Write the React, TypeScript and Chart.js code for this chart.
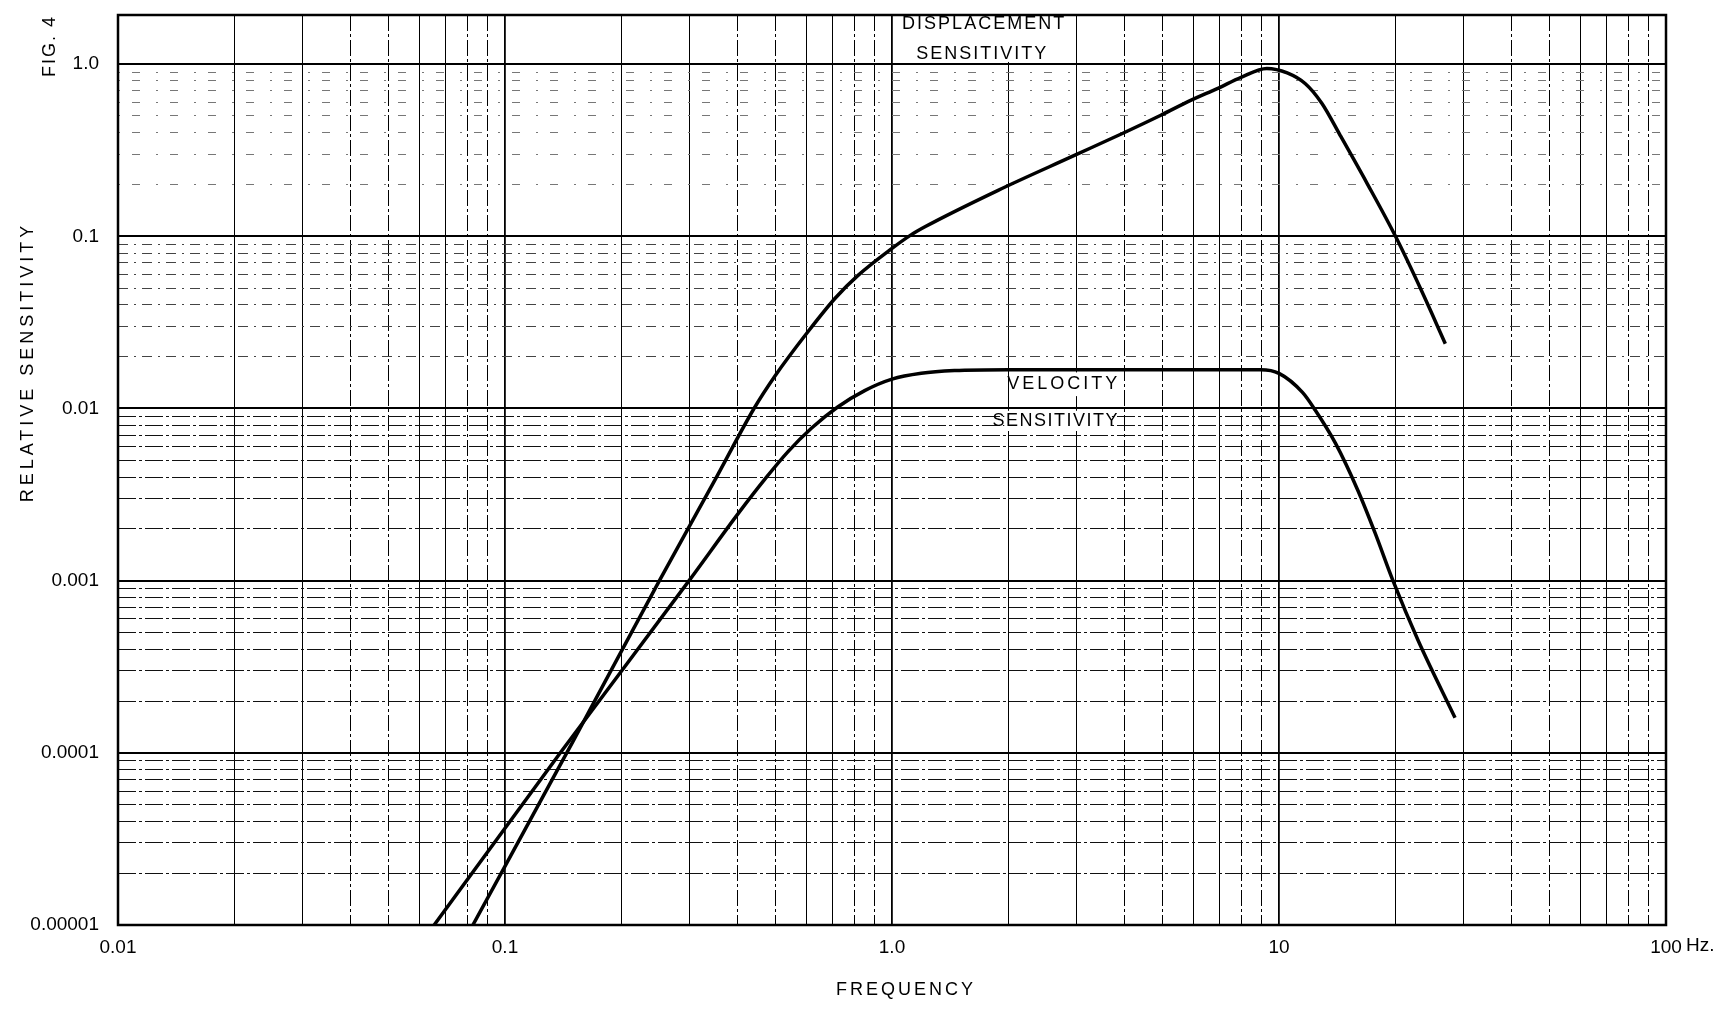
import React, { useEffect, useRef } from 'react';
import { Chart, registerables } from 'chart.js';

Chart.register(...registerables);

// ---------------- data ----------------
const xTickValues = [0.01, 0.1, 1, 10, 100];
const xTickLabels = ['0.01', '0.1', '1.0', '10', '100'];
const yTickValues = [0.00001, 0.0001, 0.001, 0.01, 0.1, 1];
const yTickLabels = ['0.00001', '0.0001', '0.001', '0.01', '0.1', '1.0'];
const xMin = 0.01;
const xMax = 100;
const yMin = 0.00001;
const yMax = 1.93;

const displacementFreq = [
  0.0826, 0.15, 0.25, 0.35, 0.44, 0.499, 0.607, 0.713, 0.817, 1.0, 1.12, 1.22, 1.88, 2.97,
  3.95, 4.95, 5.93, 6.95, 7.98, 9.3, 10.5, 11.7, 12.9, 14.4, 16.9, 20.0, 23.4, 26.9,
];
const displacementValue = [
  0.00001, 0.000117, 0.00099, 0.0039, 0.01, 0.0155, 0.028, 0.0437, 0.0593, 0.0851, 0.102, 0.114, 0.185, 0.296,
  0.397, 0.505, 0.618, 0.724, 0.839, 0.945, 0.89, 0.77, 0.593, 0.385, 0.2025, 0.1, 0.0478, 0.0238,
];

const velocityFreq = [
  0.0656, 0.139, 0.299, 0.403, 0.47, 0.538, 0.62, 0.724, 0.85, 1.0, 1.19, 1.45, 2.0, 4.0,
  8.97, 10.0, 11.5, 12.4, 14.0, 16.0, 17.7, 19.7, 22.9, 28.5,
];
const velocityValue = [
  0.00001, 0.0001, 0.001, 0.0025, 0.0039, 0.0056, 0.0077, 0.0102, 0.0127, 0.0148, 0.016, 0.0166, 0.0168, 0.0168,
  0.0168, 0.016, 0.0124, 0.0098, 0.00627, 0.00333, 0.0019, 0.001, 0.000448, 0.00016,
];

const xAxisTitle = 'FREQUENCY';
const yAxisTitle = 'RELATIVE SENSITIVITY';
const figureLabel = 'FIG. 4';
const xUnitLabel = 'Hz.';
const curveLabelTexts = ['DISPLACEMENT', 'SENSITIVITY', 'VELOCITY', 'SENSITIVITY'];

// ---------------- layout / style ----------------
const W = 1730;
const H = 1011;
const FONT = "'Liberation Sans', Arial, sans-serif";

// anchor of each curve label in data space (freq, value), letter spacing
const curveLabelLayout = [
  { fx: 1.73, v: 1.71, spacing: 2 },
  { fx: 1.71, v: 1.14, spacing: 2 },
  { fx: 2.78, v: 0.01396, spacing: 3 },
  { fx: 2.65, v: 0.0085, spacing: 1.5 },
];
// white panels behind the labels, in data space: [freqFrom, freqTo, valueFrom, valueTo]
const labelPanels = [
  [1.02, 2.95, 1.03, 1.9],
  [2.05, 3.7, 0.0118, 0.0162],
  [1.95, 3.7, 0.0074, 0.0097],
];

function buildLogTicks(min: number, max: number) {
  const out: number[] = [];
  for (let e = -7; e <= 3; e++) {
    for (let m = 1; m <= 9; m++) {
      const v = Number((m * Math.pow(10, e)).toPrecision(6));
      if (v >= min * 0.9999 && v <= max * 1.0001) out.push(v);
    }
  }
  return out;
}

function mantissa(v: number) {
  const e = Math.floor(Math.log10(v) + 1e-9);
  return Math.round(v / Math.pow(10, e));
}

function labelFor(v: number, vals: number[], labels: string[]) {
  for (let i = 0; i < vals.length; i++) {
    if (Math.abs(Math.log10(v) - Math.log10(vals[i])) < 1e-6) return labels[i];
  }
  return '';
}

const textPlugin = {
  id: 'paperTexts',
  beforeDatasetsDraw(chart: any) {
    const { ctx, chartArea } = chart;
    const xs = chart.scales.x;
    const ys = chart.scales.y;
    ctx.save();
    ctx.fillStyle = '#fff';
    labelPanels.forEach(([f0, f1, v0, v1]) => {
      const x0 = xs.getPixelForValue(f0);
      const x1 = xs.getPixelForValue(f1);
      const y0 = ys.getPixelForValue(v1);
      const y1 = ys.getPixelForValue(v0);
      ctx.fillRect(x0, y0, x1 - x0, y1 - y0);
    });
    ctx.restore();
    ctx.save();
    ctx.lineWidth = 2.5;
    ctx.strokeStyle = '#000';
    ctx.strokeRect(chartArea.left, chartArea.top, chartArea.right - chartArea.left, chartArea.bottom - chartArea.top);
    ctx.restore();
  },
  afterDraw(chart: any) {
    const { ctx } = chart;
    const xs = chart.scales.x;
    const ys = chart.scales.y;
    ctx.save();
    ctx.fillStyle = '#000';
    ctx.textBaseline = 'middle';

    // curve labels
    ctx.font = `18px ${FONT}`;
    ctx.textAlign = 'center';
    curveLabelLayout.forEach((l, i) => {
      ctx.letterSpacing = `${l.spacing}px`;
      ctx.fillText(curveLabelTexts[i], xs.getPixelForValue(l.fx), ys.getPixelForValue(l.v));
    });

    // x axis title
    ctx.letterSpacing = '3px';
    ctx.font = `18px ${FONT}`;
    ctx.fillText(xAxisTitle, 906, 990);

    // unit after the last tick label
    ctx.letterSpacing = '0px';
    ctx.font = `19px ${FONT}`;
    ctx.textAlign = 'left';
    ctx.fillText(xUnitLabel, xs.getPixelForValue(xMax) + 20, 946);

    // y axis title (rotated)
    ctx.save();
    ctx.translate(28, 362);
    ctx.rotate(-Math.PI / 2);
    ctx.textAlign = 'center';
    ctx.letterSpacing = '4px';
    ctx.font = `18px ${FONT}`;
    ctx.fillText(yAxisTitle, 0, 0);
    ctx.restore();

    // figure label (rotated)
    ctx.save();
    ctx.translate(50, 46);
    ctx.rotate(-Math.PI / 2);
    ctx.textAlign = 'center';
    ctx.letterSpacing = '2px';
    ctx.font = `18px ${FONT}`;
    ctx.fillText(figureLabel, 0, 0);
    ctx.restore();

    ctx.restore();
  },
};

export default function App() {
  const ref = useRef<HTMLCanvasElement>(null);

  useEffect(() => {
    const canvas = ref.current;
    if (!canvas) return;
    const chart = new Chart(canvas, {
      type: 'line',
      data: {
        datasets: [
          {
            label: 'Displacement sensitivity',
            data: displacementFreq.map((f, i) => ({ x: f, y: displacementValue[i] })),
            borderColor: '#000',
            borderWidth: 3.5,
            pointRadius: 0,
            cubicInterpolationMode: 'monotone',
            fill: false,
          },
          {
            label: 'Velocity sensitivity',
            data: velocityFreq.map((f, i) => ({ x: f, y: velocityValue[i] })),
            borderColor: '#000',
            borderWidth: 3.5,
            pointRadius: 0,
            cubicInterpolationMode: 'monotone',
            fill: false,
          },
        ],
      },
      options: {
        responsive: false,
        animation: false,
        devicePixelRatio: 1,
        layout: { padding: { left: 0, top: 15, right: 64, bottom: 0 } },
        plugins: {
          legend: { display: false },
          tooltip: { enabled: false },
          title: { display: false },
        },
        scales: {
          x: {
            type: 'logarithmic',
            min: xMin,
            max: xMax,
            afterBuildTicks: (s: any) => {
              s.ticks = buildLogTicks(xMin, xMax).map((v) => ({ value: v }));
            },
            afterFit: (s: any) => {
              s.height = 86;
              s.paddingLeft = 0;
              s.paddingRight = 0;
            },
            ticks: {
              autoSkip: false,
              maxRotation: 0,
              minRotation: 0,
              padding: 11,
              color: '#000',
              font: { family: FONT, size: 19 },
              callback: (v: any) => labelFor(Number(v), xTickValues, xTickLabels),
            },
            grid: {
              drawTicks: false,
              color: '#000',
              lineWidth: (c: any) => (c.tick && mantissa(c.tick.value) === 1 ? 1.8 : 1),
            },
            border: {
              display: false,
              dash: (c: any) => {
                if (!c.tick) return [];
                const m = mantissa(c.tick.value);
                return [1, 2, 3, 6, 7].includes(m) ? [] : [16, 3, 3, 3];
              },
            },
          },
          y: {
            type: 'logarithmic',
            min: yMin,
            max: yMax,
            afterBuildTicks: (s: any) => {
              s.ticks = buildLogTicks(yMin, yMax).map((v) => ({ value: v }));
            },
            afterFit: (s: any) => {
              s.width = 118;
              s.paddingTop = 0;
              s.paddingBottom = 0;
            },
            ticks: {
              autoSkip: false,
              padding: 19,
              color: '#000',
              font: { family: FONT, size: 19 },
              callback: (v: any) => labelFor(Number(v), yTickValues, yTickLabels),
            },
            grid: {
              drawTicks: false,
              color: (c: any) => {
                if (!c.tick) return '#000';
                const v = c.tick.value;
                if (mantissa(v) === 1) return '#000';
                if (v >= 0.1) return '#777';
                if (v >= 0.01) return '#444';
                return '#111';
              },
              lineWidth: (c: any) => (c.tick && mantissa(c.tick.value) === 1 ? 2 : 1),
            },
            border: {
              display: false,
              dash: (c: any) => {
                if (!c.tick) return [];
                const v = c.tick.value;
                if (mantissa(v) === 1) return [];
                if (v >= 0.1) return [2, 12, 8, 16];
                if (v >= 0.01) return [10, 6, 2, 6];
                return [18, 3, 3, 3];
              },
            },
          },
        },
      },
      plugins: [textPlugin],
    } as any);
    return () => chart.destroy();
  }, []);

  return (
    <div style={{ position: 'fixed', left: 0, top: 0, width: W, height: H, background: '#fff' }}>
      <canvas ref={ref} width={W} height={H} style={{ display: 'block', width: W, height: H }} />
    </div>
  );
}
